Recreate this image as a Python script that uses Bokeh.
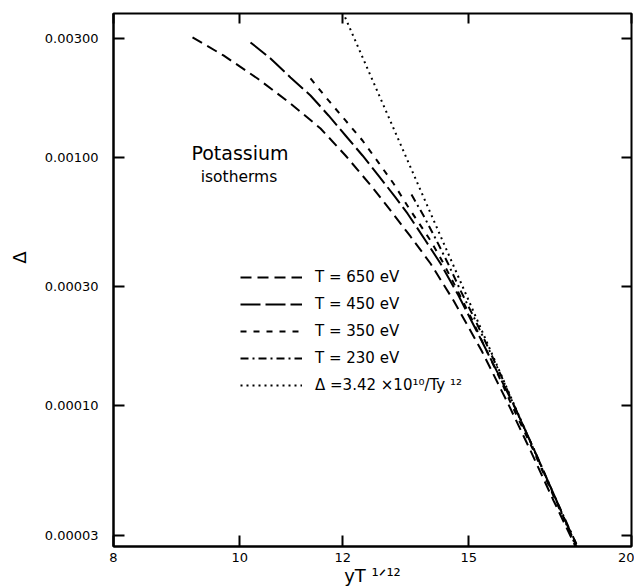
import math
from bokeh.plotting import figure
from bokeh.models import (LogAxis, FixedTicker, NumeralTickFormatter, CustomJSTickFormatter,
                          Legend, LegendItem, Label)
from bokeh.embed import file_html
from bokeh.resources import INLINE

# ---- data ----
t650_x = [9.200, 9.718, 10.321, 10.941, 11.538, 12.059, 12.649, 13.058, 13.529, 14.016,
          14.598, 15.339, 16.089, 16.728, 17.422, 18.114]
t650_y = [0.0030279, 0.0025632, 0.0020707, 0.0016427, 0.0013027, 0.0010144, 0.0007543,
          0.0006097, 0.0004790, 0.0003730, 0.0002647, 0.0001666, 0.0001010, 0.0000659,
          0.0000415, 0.0000271]

t450_x = [10.194, 10.561, 10.941, 11.335, 11.702, 12.059, 12.427, 12.784, 13.174, 13.457,
          13.892, 14.266, 14.727, 15.312, 15.863, 16.261, 16.847, 17.515, 18.146]
t450_y = [0.0028909, 0.0024930, 0.0020900, 0.0017690, 0.0014696, 0.0012209, 0.0010144,
          0.0008426, 0.0006878, 0.0005930, 0.0004616, 0.0003730, 0.0002773, 0.0001862,
          0.0001285, 0.0000992, 0.0000659, 0.0000415, 0.0000271]

t350_x = [11.335, 11.702, 12.059, 12.427, 12.784, 13.128, 13.481, 14.016, 14.342, 14.701,
          15.070, 15.448, 15.807, 16.175, 16.817, 17.484, 18.178]
t350_y = [0.0020707, 0.0016890, 0.0014031, 0.0011655, 0.0009498, 0.0007827, 0.0006268,
          0.0004616, 0.0003730, 0.0002904, 0.0002240, 0.0001697, 0.0001321, 0.0001010,
          0.0000659, 0.0000415, 0.0000271]

t230_x = [13.552, 13.868, 14.165, 14.444, 14.780, 15.150, 15.530, 15.891, 16.232, 16.847,
          17.515, 18.178]
t230_y = [0.000707, 0.0005714, 0.0004616, 0.0003765, 0.0002904, 0.0002240, 0.0001697,
          0.0001309, 0.0001010, 0.0000659, 0.0000415, 0.0000271]

fit_x = [12.0, 15.0, 18.2]
fit_y = [0.00384, 0.0002636, 0.0000259]

x_ticks = [8, 10, 12, 15, 20]
y_ticks = [0.00003, 0.0001, 0.0003, 0.001, 0.003]

labels = ["T = 650 eV", "T = 450 eV", "T = 350 eV", "T = 230 eV",
          "\u0394 =3.42 \u00d710\u00b9\u2070/Ty \u00b9\u00b2"]
x_title = "yT \u00b9\u141f\u00b9\u00b2"
y_title = "\u2003\u2003\u2002\u0394"

FONT = "DejaVu Sans"

p = figure(width=634, height=588, x_axis_type="log", y_axis_type="log",
           x_range=(8, 20), y_range=(2.71e-5, 3.78e-3),
           output_backend="svg", toolbar_location=None,
           min_border_left=113, min_border_right=3, min_border_top=13, min_border_bottom=42)
p.grid.visible = False
p.outline_line_color = "black"
p.outline_line_width = 2
p.background_fill_color = "white"
p.border_fill_color = "white"

for ax, ticks, fmt, standoff in ((p.xaxis[0], x_ticks, "0", 6), (p.yaxis[0], y_ticks, "0.00000", 15)):
    ax.ticker = FixedTicker(ticks=ticks)
    ax.formatter = NumeralTickFormatter(format=fmt)
    ax.major_tick_in = 11
    ax.major_tick_out = 0
    ax.major_tick_line_width = 2
    ax.major_tick_line_color = "black"
    ax.minor_tick_line_color = None
    ax.axis_line_width = 2
    ax.axis_line_color = "black"
    ax.major_label_text_font = FONT
    ax.major_label_text_font_size = "13px"
    ax.major_label_text_color = "black"
    ax.major_label_standoff = standoff
    ax.axis_label_text_font = FONT
    ax.axis_label_text_font_style = "normal"
    ax.axis_label_text_color = "black"

p.xaxis[0].axis_label = x_title
p.xaxis[0].axis_label_text_font_size = "18px"
p.xaxis[0].axis_label_standoff = 0
p.yaxis[0].axis_label = y_title
p.yaxis[0].axis_label_text_font_size = "18px"
p.yaxis[0].axis_label_standoff = 12

for loc, ticks in (("above", x_ticks), ("right", y_ticks)):
    ax = LogAxis(ticker=FixedTicker(ticks=ticks), major_tick_in=10, major_tick_out=0,
                 major_tick_line_width=2, major_tick_line_color="black",
                 minor_tick_line_color=None, axis_line_color=None,
                 formatter=CustomJSTickFormatter(code="return ''"),
                 major_label_standoff=0)
    p.add_layout(ax, loc)

r650 = p.line(t650_x, t650_y, line_color="black", line_width=2, line_dash="11 6")
r450 = p.line(t450_x, t450_y, line_color="black", line_width=2, line_dash="20 5")
r350 = p.line(t350_x, t350_y, line_color="black", line_width=2, line_dash="6 7")
r230 = p.line(t230_x, t230_y, line_color="black", line_width=2, line_dash="8 4 2 4")
rfit = p.line(fit_x, fit_y, line_color="black", line_width=2, line_dash="2 4")

legend = Legend(items=[LegendItem(label=l, renderers=[r]) for l, r in
                       zip(labels, [r650, r450, r350, r230, rfit])],
                location=(127, 151), padding=0, margin=0, spacing=7,
                glyph_width=62, glyph_height=20, label_height=20, label_standoff=13,
                label_text_font=FONT, label_text_font_size="15px", label_text_color="black",
                background_fill_alpha=0, border_line_color=None)
p.add_layout(legend)

p.add_layout(Label(x=126.5, y=394, x_units="screen", y_units="screen", text="Potassium",
                   text_align="center", text_baseline="middle", text_font=FONT,
                   text_font_size="19px", text_color="black"))
p.add_layout(Label(x=125.5, y=370, x_units="screen", y_units="screen", text="isotherms",
                   text_align="center", text_baseline="middle", text_font=FONT,
                   text_font_size="15.5px", text_color="black"))

open("out.html", "w").write(file_html(p, INLINE))
